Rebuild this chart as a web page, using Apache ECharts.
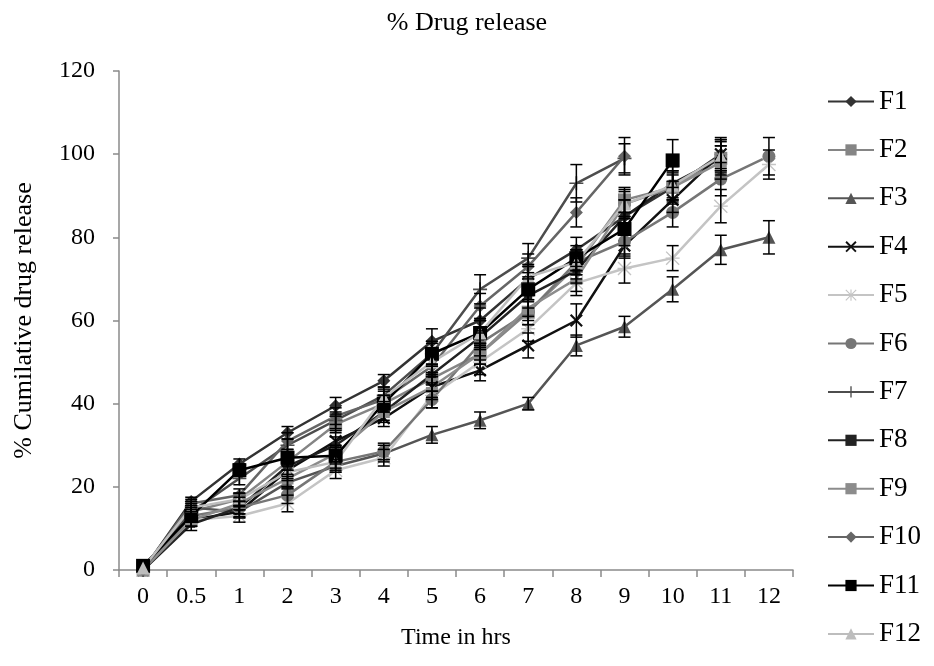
<!DOCTYPE html>
<html>
<head>
<meta charset="utf-8">
<script src="https://cdn.jsdelivr.net/npm/echarts@6/dist/echarts.min.js"></script>
<style>html,body{margin:0;padding:0;background:#fff}#c{width:934px;height:666px}</style>
</head>
<body>
<div id="c"></div>
<script>
const categories = ['0','0.5','1','2','3','4','5','6','7','8','9','10','11','12'];
const yTicks = [0, 20, 40, 60, 80, 100, 120];

const F1  = [0, 16.5, 25.5, 33, 39.5, 45.5, 55, 60, 70, 77, 85, 92, 100, null];
const F2  = [0.5, 14, 17, 26, 35, 40, 46, 52, 62, 73, 89, 92, 99, null];
const F3  = [0, 15, 14, 21, 25, 28, 32.5, 36, 40, 54, 58.5, 67.5, 77, 80];
const F4  = [0, 12, 14, 24, 31, 36.5, 44, 48, 54, 60, 78, 89, 100, null];
const F5  = [0, 12, 13, 16, 24, 27, 42, 50, 58, 69, 72.5, 75, 87.5, 97.5];
const F6  = [0, 13, 15, 18, 26, 28.5, 41, 54.5, 62, 74, 79, 86, 94, 99.5];
const F7  = [0, 14, 22, 30, 36, 42, 52, 67.5, 75, 93, 99, null, null, null];
const F8  = [0, 11, 15, 25, 30, 38, 47, 56, 66, 72, 85, 93, 99, null];
const F9  = [0, 12, 16, 22, 28, 38, 44, 52, 63, 70, 88, 92, 98, null];
const F10 = [0, 16, 18, 31, 37, 41, 49, 63.5, 73, 86, 99.5, null, null, null];
const F11 = [1, 13, 24, 27, 27.5, 40, 52, 57, 67.5, 75, 82, 98.5, null, null];
const F12 = [0.5, 15, 17, 23.5, 26, 41.5, 50, 57, 70.5, 74, 88, 92.5, 99.5, null];

const E1  = [0, 1, 1.2, 1.5, 2, 1.5, 3, 3, 3, 3, 4, 4, 4, 0];
const E2  = [0, 1.5, 1.5, 2, 2, 2, 3, 2.5, 3, 3, 3, 3, 3, 0];
const E3  = [0, 1, 1.2, 1.5, 1.5, 2, 2, 2, 1.5, 2.5, 2.5, 3, 3.5, 4];
const E4  = [0, 1.5, 1.5, 2, 2.5, 2, 3, 2.5, 3, 4, 3, 3, 3.5, 0];
const E5  = [0, 1.5, 1.5, 2, 2, 2, 3, 3, 3, 3, 3.5, 3, 4, 3.5];
const E6  = [0, 1, 1.5, 2, 1.5, 2, 2, 3, 3, 3, 3.5, 3.5, 4, 4.5];
const E7  = [0, 1, 1.5, 1.5, 2, 2, 2.5, 3.5, 3.5, 4.5, 3.5, 0, 0, 0];
const E8  = [0, 1.5, 1.5, 2, 2, 2.5, 2.5, 2.5, 3, 3, 4, 4, 4, 0];
const E9  = [0, 1.5, 1.5, 2, 2, 2, 2.5, 2.5, 3, 3, 3, 3.5, 4, 0];
const E10 = [0, 1, 1.5, 2, 2, 2, 2.5, 3, 3, 3.5, 4.5, 0, 0, 0];
const E11 = [0, 1.5, 1.5, 2, 2, 2, 3, 3, 3, 3, 4, 5, 0, 0];
const E12 = [0, 1.5, 1.5, 2, 2, 2, 2.5, 3, 3, 3, 3.5, 3.5, 4, 0];

const names = ['F1','F2','F3','F4','F5','F6','F7','F8','F9','F10','F11','F12'];
const values = [F1,F2,F3,F4,F5,F6,F7,F8,F9,F10,F11,F12];
const errors = [E1,E2,E3,E4,E5,E6,E7,E8,E9,E10,E11,E12];

const xPath = 'path://M0,1.2L1.2,0L5,3.8L8.8,0L10,1.2L6.2,5L10,8.8L8.8,10L5,6.2L1.2,10L0,8.8L3.8,5Z';
const plusPath = 'path://M4.4,0H5.6V4.4H10V5.6H5.6V10H4.4V5.6H0V4.4H4.4Z';
const starPath = 'path://M4.5,0H5.5V10H4.5Z M0,4.5H10V5.5H0Z M0.7,0L10,9.3L9.3,10L0,0.7Z M9.3,0L10,0.7L0.7,10L0,9.3Z';

const styles = [
  {color:'#333333', symbol:'diamond', size:13},
  {color:'#858585', symbol:'rect', size:13},
  {color:'#555555', symbol:'triangle', size:13},
  {color:'#111111', symbol:xPath, size:13},
  {color:'#c4c4c4', symbol:starPath, size:14},
  {color:'#767676', symbol:'circle', size:13},
  {color:'#4d4d4d', symbol:plusPath, size:14},
  {color:'#222222', symbol:'rect', size:[8,7]},
  {color:'#8c8c8c', symbol:'rect', size:[12,6], offset:[0,3]},
  {color:'#666666', symbol:'diamond', size:13},
  {color:'#000000', symbol:'rect', size:14},
  {color:'#bdbdbd', symbol:'triangle', size:13}
];

const serif = 'Liberation Serif';
const series = [];
names.forEach((n, i) => {
  const st = styles[i];
  series.push({
    name: n, type: 'line', data: values[i],
    symbol: st.symbol, symbolSize: st.size, symbolOffset: st.offset || [0,0],
    showSymbol: true, connectNulls: false,
    lineStyle: {color: st.color, width: 2.5},
    itemStyle: {color: st.color},
    z: 3
  });
  const ed = [];
  values[i].forEach((v, k) => { if (v !== null && errors[i][k] > 0) ed.push([k, v, errors[i][k]]); });
  series.push({
    name: n + ' err', type: 'custom', data: ed, z: 4,
    encode: {x: 0, y: 1},
    renderItem: function (params, api) {
      const x = api.value(0), v = api.value(1), e = api.value(2);
      const top = api.coord([x, v + e]);
      const bot = api.coord([x, v - e]);
      const w = 6;
      const st = {stroke: '#000', lineWidth: 1.5};
      return {type: 'group', children: [
        {type: 'line', shape: {x1: top[0], y1: top[1], x2: bot[0], y2: bot[1]}, style: st},
        {type: 'line', shape: {x1: top[0]-w, y1: top[1], x2: top[0]+w, y2: top[1]}, style: st},
        {type: 'line', shape: {x1: bot[0]-w, y1: bot[1], x2: bot[0]+w, y2: bot[1]}, style: st}
      ]};
    }
  });
});

const chart = echarts.init(document.getElementById('c'), null, {renderer: 'canvas'});
chart.setOption({
  backgroundColor: '#fff',
  animation: false,
  title: {
    text: '% Drug release', left: 'center', top: 5,
    textStyle: {fontFamily: serif, fontSize: 26, fontWeight: 'normal', color: '#000'}
  },
  legend: {
    data: names, orient: 'vertical', left: 827, top: 88, padding: 0,
    itemWidth: 46, itemHeight: 14, itemGap: 21.4,
    textStyle: {fontFamily: serif, fontSize: 27, color: '#000', lineHeight: 24}
  },
  grid: {left: 119, right: 141, top: 71, bottom: 96, containLabel: false},
  xAxis: {
    type: 'category', data: categories, boundaryGap: true,
    name: 'Time in hrs', nameLocation: 'middle', nameGap: 56,
    nameTextStyle: {fontFamily: serif, fontSize: 24, color: '#000'},
    axisLine: {show: true, lineStyle: {color: '#8a8a8a', width: 1.5}},
    axisTick: {show: true, length: 7, lineStyle: {color: '#8a8a8a', width: 1.5}},
    axisLabel: {fontFamily: serif, fontSize: 24, color: '#000', margin: 15},
    splitLine: {show: false}
  },
  yAxis: {
    type: 'value', min: yTicks[0], max: yTicks[yTicks.length-1], interval: 20,
    name: '% Cumilative drug release', nameLocation: 'middle', nameGap: 82,
    nameTextStyle: {fontFamily: serif, fontSize: 26, color: '#000'},
    axisLine: {show: true, lineStyle: {color: '#8a8a8a', width: 1.5}},
    axisTick: {show: true, length: 6, lineStyle: {color: '#8a8a8a', width: 1.5}},
    axisLabel: {fontFamily: serif, fontSize: 24, color: '#000', margin: 24},
    splitLine: {show: false}
  },
  series: series
});
</script>
</body>
</html>
